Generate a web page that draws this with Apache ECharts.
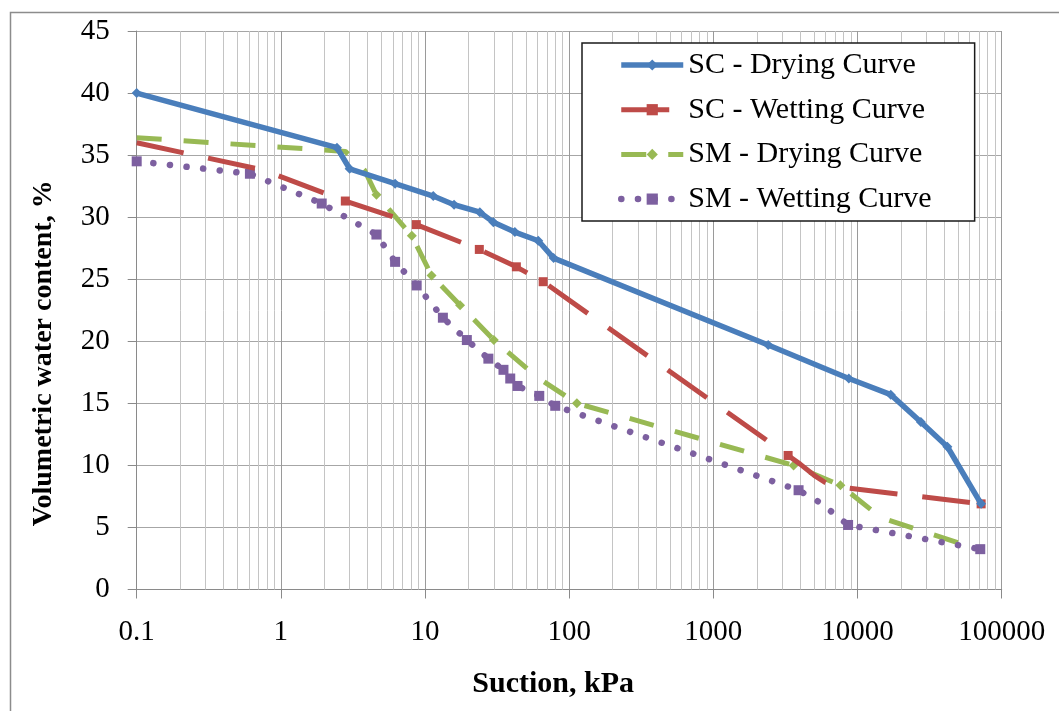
<!DOCTYPE html>
<html><head><meta charset="utf-8">
<script src="https://cdn.jsdelivr.net/npm/echarts@6/dist/echarts.min.js"></script>
<style>html,body{margin:0;padding:0;background:#fff}#c{width:1059px;height:711px}</style>
</head><body><div id="c"></div>
<script>
const seriesNames = ['SC - Drying Curve', 'SC - Wetting Curve', 'SM - Drying Curve', 'SM - Wetting Curve'];

const scDryX = [0.1, 2.45, 3.0, 6.2, 11.4, 15.9, 24, 29.8, 42, 61, 78, 2400, 8700, 17000, 27500, 42000, 72000];
const scDryY = [40.0, 35.6, 33.9, 32.7, 31.7, 31.0, 30.4, 29.6, 28.8, 28.1, 26.7, 19.7, 17.0, 15.7, 13.5, 11.5, 6.9];
const scDryMarked = [1, 1, 1, 1, 1, 1, 1, 1, 1, 1, 1, 1, 1, 1, 1, 1, 1];

const scWetX = [0.1, 0.75, 2.8, 8.7, 23.8, 43, 66, 3300, 4000, 5000, 6000, 7000, 72000];
const scWetY = [36.0, 33.8, 31.3, 29.4, 27.4, 26.0, 24.8, 10.8, 10.1, 9.2, 8.6, 8.3, 6.9];
const scWetMarked = [0, 0, 1, 1, 1, 1, 1, 1, 0, 0, 0, 0, 1];

const smDryX = [0.1, 2.8, 3.8, 4.6, 8.1, 11.1, 17.5, 30, 60, 113, 3600, 7600, 14500, 70000];
const smDryY = [36.4, 35.3, 33.8, 31.8, 28.5, 25.3, 22.9, 20.1, 17.1, 15.0, 10.0, 8.4, 5.8, 3.2];
const smDryMarked = [0, 0, 0, 1, 1, 1, 1, 1, 0, 1, 1, 1, 0, 0];

const smWetX = [0.1, 0.61, 1.92, 4.6, 6.2, 8.75, 13.3, 19.5, 27.5, 35, 39, 43.8, 62, 80, 3900, 5500, 8600, 71000];
const smWetY = [34.5, 33.5, 31.1, 28.6, 26.4, 24.5, 21.9, 20.1, 18.6, 17.7, 17.0, 16.4, 15.6, 14.8, 8.0, 7.0, 5.2, 3.25];
const smWetMarked = [1, 1, 1, 1, 1, 1, 1, 1, 1, 1, 1, 1, 1, 1, 1, 0, 1, 1];

const xTickLabels = ['0.1', '1', '10', '100', '1000', '10000', '100000'];
const xName = 'Suction, kPa';
const yName = 'Volumetric water content, %';

// minor log grid positions (2..9 x 10^k)
const minorGrid = [];
for (let k = -1; k <= 4; k++) for (let m = 2; m <= 9; m++) minorGrid.push(m * Math.pow(10, k));

function points(xs, ys, marked, sym) {
  return xs.map((x, i) => ({value: [x, ys[i]], symbol: marked[i] ? sym : 'none'}));
}

const FONT = 'Liberation Serif';
const chart = echarts.init(document.getElementById('c'), null, {renderer: 'canvas'});
chart.setOption({
  animation: false,
  backgroundColor: '#fff',
  textStyle: {fontFamily: FONT, color: '#000'},
  grid: {left: 136.7, right: 57.3, top: 31, bottom: 121.5, outerBoundsMode: 'none', containLabel: false},
  graphic: [{type: 'rect', left: 8, top: 10, shape: {x: 0, y: 0, width: 1100, height: 800}, style: {fill: 'none', stroke: '#8c8c8c', lineWidth: 1.5}, silent: true}],
  legend: {
    data: seriesNames, orient: 'vertical', left: 582, top: 43,
    backgroundColor: '#fff', borderColor: '#1a1a1a', borderWidth: 1.5,
    padding: [7, 43, 7, 36], itemGap: 14.7, itemWidth: 62, itemHeight: 14,
    lineStyle: {width: 'inherit'},
    textStyle: {fontFamily: FONT, fontSize: 30, color: '#000'}
  },
  xAxis: {
    type: 'log', logBase: 10, min: 0.1, max: 100000,
    axisLine: {show: true, lineStyle: {color: '#8a8a8a', width: 1}},
    axisTick: {show: true, inside: false, length: 9, lineStyle: {color: '#8a8a8a'}},
    axisLabel: {margin: 28, fontSize: 29, fontFamily: FONT, color: '#000', showMinLabel: true, showMaxLabel: true,
      formatter: v => xTickLabels[Math.round(Math.log10(v)) + 1]},
    splitLine: {show: true, lineStyle: {color: '#9a9a9a', width: 1}},
    name: xName, nameLocation: 'middle', nameGap: 80,
    nameTextStyle: {fontSize: 30, fontWeight: 'bold', fontFamily: FONT, color: '#000', padding: [0, 32, 0, 0]}
  },
  yAxis: {
    type: 'value', min: 0, max: 45, interval: 5,
    axisLine: {show: true, lineStyle: {color: '#8a8a8a', width: 1}},
    axisTick: {show: true, inside: false, length: 9, lineStyle: {color: '#8a8a8a'}},
    axisLabel: {margin: 27, fontSize: 29, fontFamily: FONT, color: '#000'},
    splitLine: {show: true, lineStyle: {color: '#a6a6a6', width: 1}},
    name: yName, nameLocation: 'middle', nameRotate: 90, nameGap: 79,
    nameTextStyle: {fontSize: 28, fontWeight: 'bold', fontFamily: FONT, color: '#000', padding: [0, 86, 0, 0]}
  },
  series: [
    {
      name: seriesNames[0], type: 'line', data: points(scDryX, scDryY, scDryMarked, 'diamond'), z: 5,
      symbol: 'diamond', symbolSize: 10, showAllSymbol: true,
      lineStyle: {color: '#4A7EBB', width: 5.5}, itemStyle: {color: '#4A7EBB'},
      markLine: {
        silent: true, symbol: ['none', 'none'], z: 1, label: {show: false},
        lineStyle: {color: '#c4c4c4', width: 1, type: 'solid'}, emphasis: {disabled: true},
        data: minorGrid.map(v => ({xAxis: v}))
      }
    },
    {
      name: seriesNames[1], type: 'line', data: points(scWetX, scWetY, scWetMarked, 'rect'), z: 4,
      symbol: 'rect', symbolSize: 9, showAllSymbol: true,
      lineStyle: {color: '#BE4B48', width: 5, type: [48, 25]}, itemStyle: {color: '#BE4B48'}
    },
    {
      name: seriesNames[2], type: 'line', data: points(smDryX, smDryY, smDryMarked, 'diamond'), z: 3,
      symbol: 'diamond', symbolSize: 10, showAllSymbol: true,
      lineStyle: {color: '#98B954', width: 5, type: [25, 22]}, itemStyle: {color: '#98B954'}
    },
    {
      name: seriesNames[3], type: 'line', data: points(smWetX, smWetY, smWetMarked, 'rect'), z: 3,
      symbol: 'rect', symbolSize: 10, showAllSymbol: true,
      lineStyle: {color: '#7D60A0', width: 6.5, type: [0.1, 16.6], cap: 'round'}, itemStyle: {color: '#7D60A0'}
    }
  ]
});
</script></body></html>
